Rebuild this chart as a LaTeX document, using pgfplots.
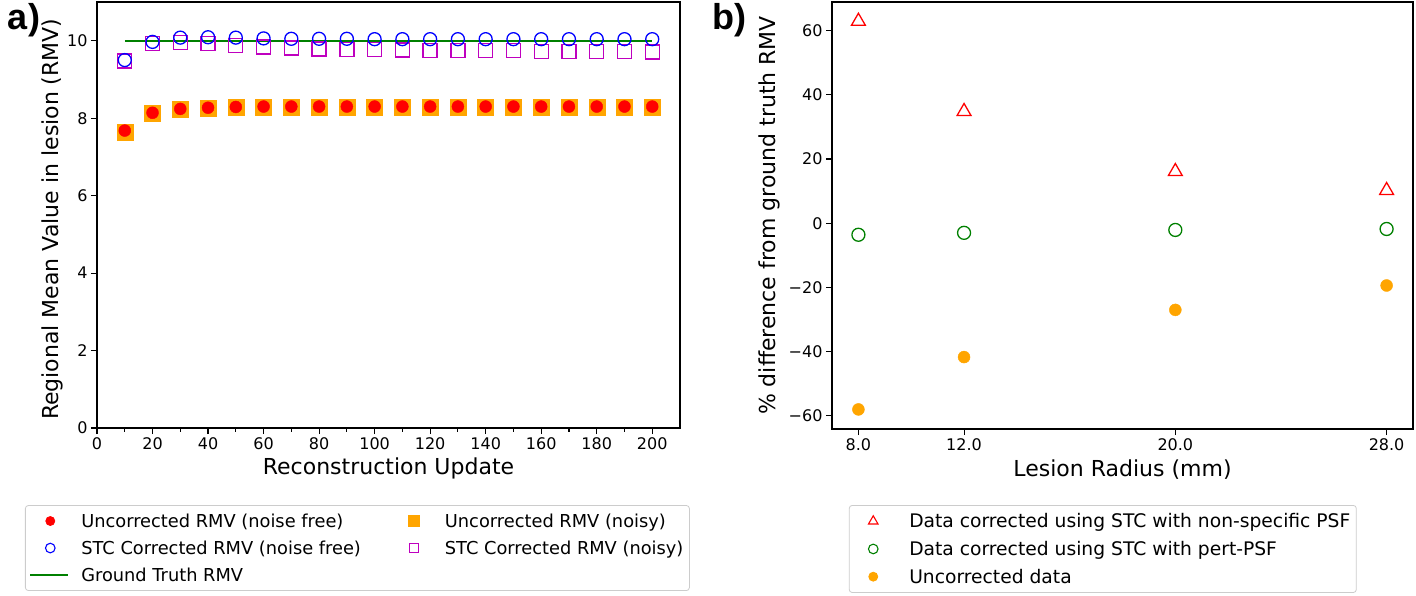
\documentclass[border=0pt]{standalone}
\usepackage{pgfplots}
\pgfplotsset{compat=1.18}
\usepackage{fontspec}
\setmainfont{DejaVu Sans}
\newfontfamily\labfont{Liberation Sans}
\definecolor{mplred}{rgb}{1,0,0}
\definecolor{mplorange}{rgb}{1,0.647,0}
\definecolor{mplblue}{rgb}{0,0,1}
\definecolor{mplmag}{rgb}{0.75,0,0.75}
\definecolor{mplgreen}{rgb}{0,0.5,0}
\begin{document}
\begin{tikzpicture}
\useasboundingbox (0,0) rectangle (1416pt,595pt);
\pgfplotsset{
  common/.style={
    scale only axis,
    anchor=south west,
    axis line style={line width=1.1pt},
    tick align=outside,
    xtick pos=bottom, ytick pos=left,
    major tick length=6pt,
    minor tick length=3.5pt,
    every tick/.style={black, line width=1.1pt},
    tick label style={font=\fontsize{16}{18}\selectfont},
    /pgf/number format/assume math mode=true,
    label style={font=\fontsize{22}{25}\selectfont},
    legend cell align=left,
    legend style={draw=black!20, rounded corners=3pt,
      line width=0.8pt, inner xsep=4pt, inner ysep=6pt, row sep=8pt},
  },
  mleg/.style={legend image code/.code={\path[draw=none,fill=none] (0pt,-1pt) rectangle (40pt,1pt); \draw[##1] plot coordinates {(20pt,0pt)};}},
  lleg/.style={legend image code/.code={\draw[##1] (0pt,0pt) -- (38pt,0pt);}},
}
% ---------------- a) ----------------
\begin{axis}[common,
  at={(97pt,167pt)}, width=583pt, height=426pt,
  xmin=0, xmax=210, ymin=0, ymax=11,
  xtick={0,20,...,200}, ytick={0,2,...,10},
  minor x tick num=1,
  xlabel={Reconstruction Update},
  ylabel={Regional Mean Value in lesion (RMV)},
  x label style={at={(axis description cs:0.5,-0.094)}, anchor=center},
  y label style={at={(axis description cs:-0.077,0.49)}, anchor=center},
  legend columns=2,
  legend style={font=\fontsize{17.8}{20}\selectfont, at={(axis description cs:-0.1235,-0.181)}, anchor=north west,
    /tikz/every odd column/.append style={column sep=9pt},
    /tikz/every even column/.append style={column sep=31pt}},
]
% orange squares (noisy uncorrected)
\addplot[only marks, color=mplorange, mark=square*, mark size=8pt, forget plot] coordinates {
(10,7.65)(20,8.13)(30,8.23)(40,8.26)(50,8.29)(60,8.29)(70,8.29)(80,8.29)(90,8.29)(100,8.29)
(110,8.29)(120,8.29)(130,8.29)(140,8.29)(150,8.29)(160,8.29)(170,8.29)(180,8.29)(190,8.29)(200,8.29)};
% red dots (noise free uncorrected)
\addplot[only marks, color=mplred, mark=*, mark size=6pt, forget plot] coordinates {
(10,7.68)(20,8.14)(30,8.24)(40,8.27)(50,8.29)(60,8.3)(70,8.3)(80,8.3)(90,8.3)(100,8.3)
(110,8.3)(120,8.3)(130,8.3)(140,8.3)(150,8.3)(160,8.3)(170,8.3)(180,8.3)(190,8.3)(200,8.3)};
% magenta squares (STC noisy)
\addplot[only marks, color=mplmag, mark=square, mark size=7pt, mark options={line width=1.3pt}, forget plot] coordinates {
(10,9.48)(20,9.93)(30,9.96)(40,9.93)(50,9.88)(60,9.84)(70,9.81)(80,9.79)(90,9.78)(100,9.77)
(110,9.76)(120,9.75)(130,9.75)(140,9.74)(150,9.74)(160,9.73)(170,9.73)(180,9.72)(190,9.72)(200,9.71)};
% ground truth line
\addplot[mplgreen, line width=2.2pt, forget plot] coordinates {(10,10)(200,10)};
% blue circles (STC noise free)
\addplot[only marks, color=mplblue, mark=o, mark size=6.5pt, mark options={line width=1.3pt}, forget plot] coordinates {
(10,9.5)(20,9.97)(30,10.08)(40,10.09)(50,10.08)(60,10.06)(70,10.05)(80,10.05)(90,10.05)(100,10.04)
(110,10.04)(120,10.04)(130,10.04)(140,10.04)(150,10.04)(160,10.04)(170,10.04)(180,10.04)(190,10.04)(200,10.04)};
% legend
\addlegendimage{only marks, color=mplred, mark=*, mark size=4.5pt, mleg}
\addlegendentry{Uncorrected RMV (noise free)}
\addlegendimage{only marks, color=mplorange, mark=square*, mark size=5.5pt, mleg}
\addlegendentry{Uncorrected RMV (noisy)}
\addlegendimage{only marks, color=mplblue, mark=o, mark size=4.8pt, mark options={line width=1.1pt}, mleg}
\addlegendentry{STC Corrected RMV (noise free)}
\addlegendimage{only marks, color=mplmag, mark=square, mark size=4.8pt, mark options={line width=1.1pt}, mleg}
\addlegendentry{STC Corrected RMV (noisy)}
\addlegendimage{mplgreen, line width=1.8pt, lleg}
\addlegendentry{Ground Truth RMV}
\end{axis}
% ---------------- b) ----------------
\begin{axis}[common,
  at={(832pt,166pt)}, width=581pt, height=427pt,
  xmin=7, xmax=29, ymin=-64.1, ymax=68.9,
  xtick={8,12,20,28}, xticklabels={8.0,12.0,20.0,28.0},
  ytick={-60,-40,-20,0,20,40,60}, yticklabels={−60,−40,−20,0,20,40,60},
  xlabel={Lesion Radius (mm)},
  ylabel={\% difference from ground truth RMV},
  x label style={at={(axis description cs:0.5,-0.094)}, anchor=center},
  y label style={at={(axis description cs:-0.107,0.5)}, anchor=center},
  legend style={font=\fontsize{18.7}{21}\selectfont, at={(axis description cs:0.029,-0.178)}, anchor=north west,
    /tikz/every odd column/.append style={column sep=14pt}},
]
\addplot[only marks, color=mplred, mark=triangle, mark size=8pt, mark options={line width=1.3pt}, forget plot] coordinates {
(8,62.9)(12,34.8)(20,16.1)(28,10.2)};
\addplot[only marks, color=mplgreen, mark=o, mark size=6.5pt, mark options={line width=1.3pt}, forget plot] coordinates {
(8,-3.6)(12,-3.0)(20,-2.1)(28,-1.8)};
\addplot[only marks, color=mplorange, mark=*, mark size=6pt, forget plot] coordinates {
(8,-58.0)(12,-41.7)(20,-27.0)(28,-19.4)};
\addlegendimage{only marks, color=mplred, mark=triangle, mark size=5.5pt, mark options={line width=1.1pt}, mleg}
\addlegendentry{Data corrected using STC with non-specific PSF}
\addlegendimage{only marks, color=mplgreen, mark=o, mark size=4.8pt, mark options={line width=1.1pt}, mleg}
\addlegendentry{Data corrected using STC with pert-PSF}
\addlegendimage{only marks, color=mplorange, mark=*, mark size=4.5pt, mleg}
\addlegendentry{Uncorrected data}
\end{axis}
\node[font=\labfont\bfseries\fontsize{36}{40}\selectfont] at (24pt,575pt) {a)};
\node[font=\labfont\bfseries\fontsize{36}{40}\selectfont] at (729pt,575pt) {b)};
\end{tikzpicture}
\end{document}
